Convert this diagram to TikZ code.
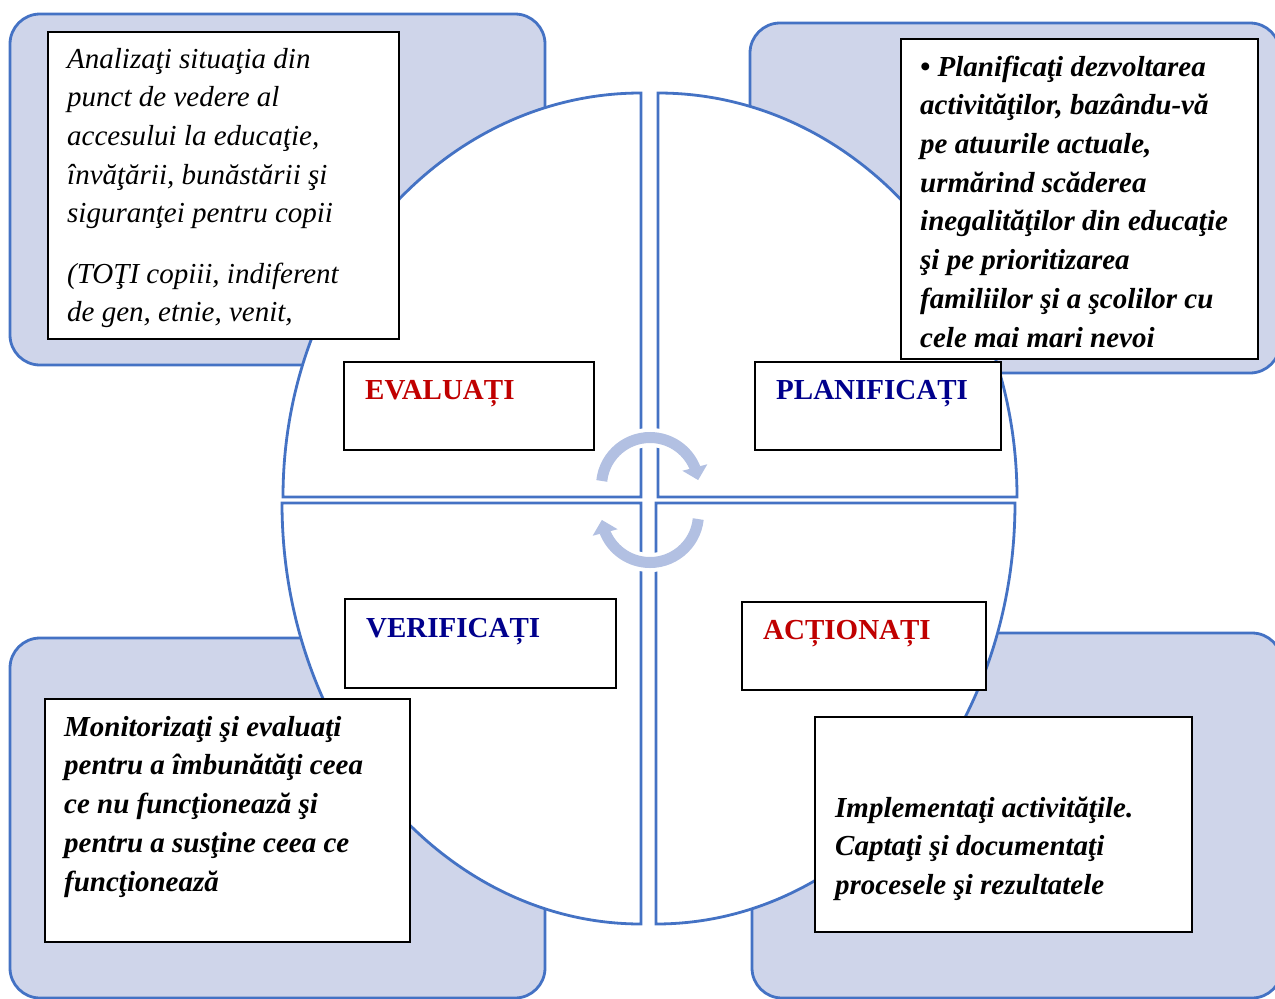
\documentclass[tikz,border=0pt]{standalone}
\usepackage{fontspec}
\setmainfont{Liberation Serif}
\usetikzlibrary{arrows.meta,bending}
\definecolor{panelfill}{RGB}{207,213,234}
\definecolor{accentblue}{RGB}{68,114,196}
\definecolor{loopblue}{RGB}{178,192,226}
\definecolor{lblred}{RGB}{192,0,0}
\definecolor{lblnavy}{RGB}{0,0,140}
\begin{document}
\begin{tikzpicture}[x=1pt,y=-1pt,
  panel/.style={fill=panelfill,draw=accentblue,line width=2.8pt,rounded corners=30pt},
  quarter/.style={fill=white,draw=accentblue,line width=2.8pt},
  framebox/.style={draw=black,line width=1.6pt,fill=white,inner sep=0pt,anchor=north west},
  bodytxt/.style={inner sep=0pt,anchor=north west,align=left,font=\fontsize{29}{38.7}\selectfont\itshape},
  boldtxt/.style={inner sep=0pt,anchor=north west,align=left,font=\fontsize{29}{38.7}\selectfont\bfseries\itshape},
  lbltxt/.style={inner sep=0pt,anchor=base west,font=\fontsize{29}{34}\selectfont\bfseries},
  loopunder/.style={draw=white,line width=19pt},
  looparrow/.style={draw=loopblue,line width=11pt,-{Triangle[width=25pt,length=13pt]}}
]
\useasboundingbox (0,0) rectangle (1275,999);

% background panels
\path[panel] (10,14) rectangle (545,365);
\path[panel] (750,23) rectangle (1280,373);
\path[panel] (10,638) rectangle (545,998);
\path[panel] (752,633) rectangle (1282,998);

% quarter sectors
\path[quarter] (641,497) -- (283,497) arc[start angle=180,end angle=270,x radius=358,y radius=404] -- cycle;
\path[quarter] (658,497) -- (658,93) arc[start angle=270,end angle=360,x radius=359,y radius=404] -- cycle;
\path[quarter] (641,503) -- (641,924) arc[start angle=90,end angle=180,x radius=359,y radius=421] -- cycle;
\path[quarter] (656,503) -- (1015,503) arc[start angle=0,end angle=90,x radius=359,y radius=421] -- cycle;

% cycle arrows
\coordinate (loopa) at (650,486);
\coordinate (loopb) at (650,514);
\path[loopunder] (loopa) ++(186:48.5) arc[start angle=186,end angle=345,radius=48.5];
\draw[looparrow] (loopa) ++(186:48.5) arc[start angle=186,end angle=353,radius=48.5];
\path[loopunder] (loopb) ++(6:48.5) arc[start angle=6,end angle=165,radius=48.5];
\draw[looparrow] (loopb) ++(6:48.5) arc[start angle=6,end angle=173,radius=48.5];

% label boxes
\node[framebox,minimum width=250pt,minimum height=88pt] (evalbox) at (343,361) {};
\node[lbltxt,text=lblred] (evallbl) at (365,399) {EVALUAȚI};
\node[framebox,minimum width=246pt,minimum height=88pt] (planbox) at (754,361) {};
\node[lbltxt,text=lblnavy] (planlbl) at (776,399) {PLANIFICAȚI};
\node[framebox,minimum width=271pt,minimum height=89pt] (verbox) at (344,598) {};
\node[lbltxt,text=lblnavy] (verlbl) at (366,637) {VERIFICAȚI};
\node[framebox,minimum width=244pt,minimum height=88pt] (actbox) at (741,601) {};
\node[lbltxt,text=lblred] (actlbl) at (763,639) {ACȚIONAȚI};

% text boxes
\node[framebox,minimum width=351pt,minimum height=307pt] (tlbox) at (47,31) {};
\node[bodytxt] (tltxt) at (67,40.9) {\strut Analizaţi situaţia din\\
punct de vedere al\\
accesului la educaţie,\\
învăţării, bunăstării şi\\
siguranţei pentru copii\\[21.5pt]
(TOŢI copiii, indiferent\\
de gen, etnie, venit,};

\node[framebox,minimum width=357pt,minimum height=320pt] (trbox) at (900,38) {};
\node[boldtxt] (trtxt) at (920,48.9) {\strut • Planificaţi dezvoltarea\\
activităţilor, bazându-vă\\
pe atuurile actuale,\\
urmărind scăderea\\
inegalităţilor din educaţie\\
şi pe prioritizarea\\
familiilor şi a şcolilor cu\\
cele mai mari nevoi};

\node[framebox,minimum width=365pt,minimum height=243pt] (blbox) at (44,698) {};
\node[boldtxt] (bltxt) at (64,708.9) {\strut Monitorizaţi şi evaluaţi\\
pentru a îmbunătăţi ceea\\
ce nu funcţionează şi\\
pentru a susţine ceea ce\\
funcţionează};

\node[framebox,minimum width=377pt,minimum height=215pt] (brbox) at (814,716) {};
\node[boldtxt] (brtxt) at (835,789.9) {\strut Implementaţi activităţile.\\
Captaţi şi documentaţi\\
procesele şi rezultatele};
\end{tikzpicture}
\end{document}
